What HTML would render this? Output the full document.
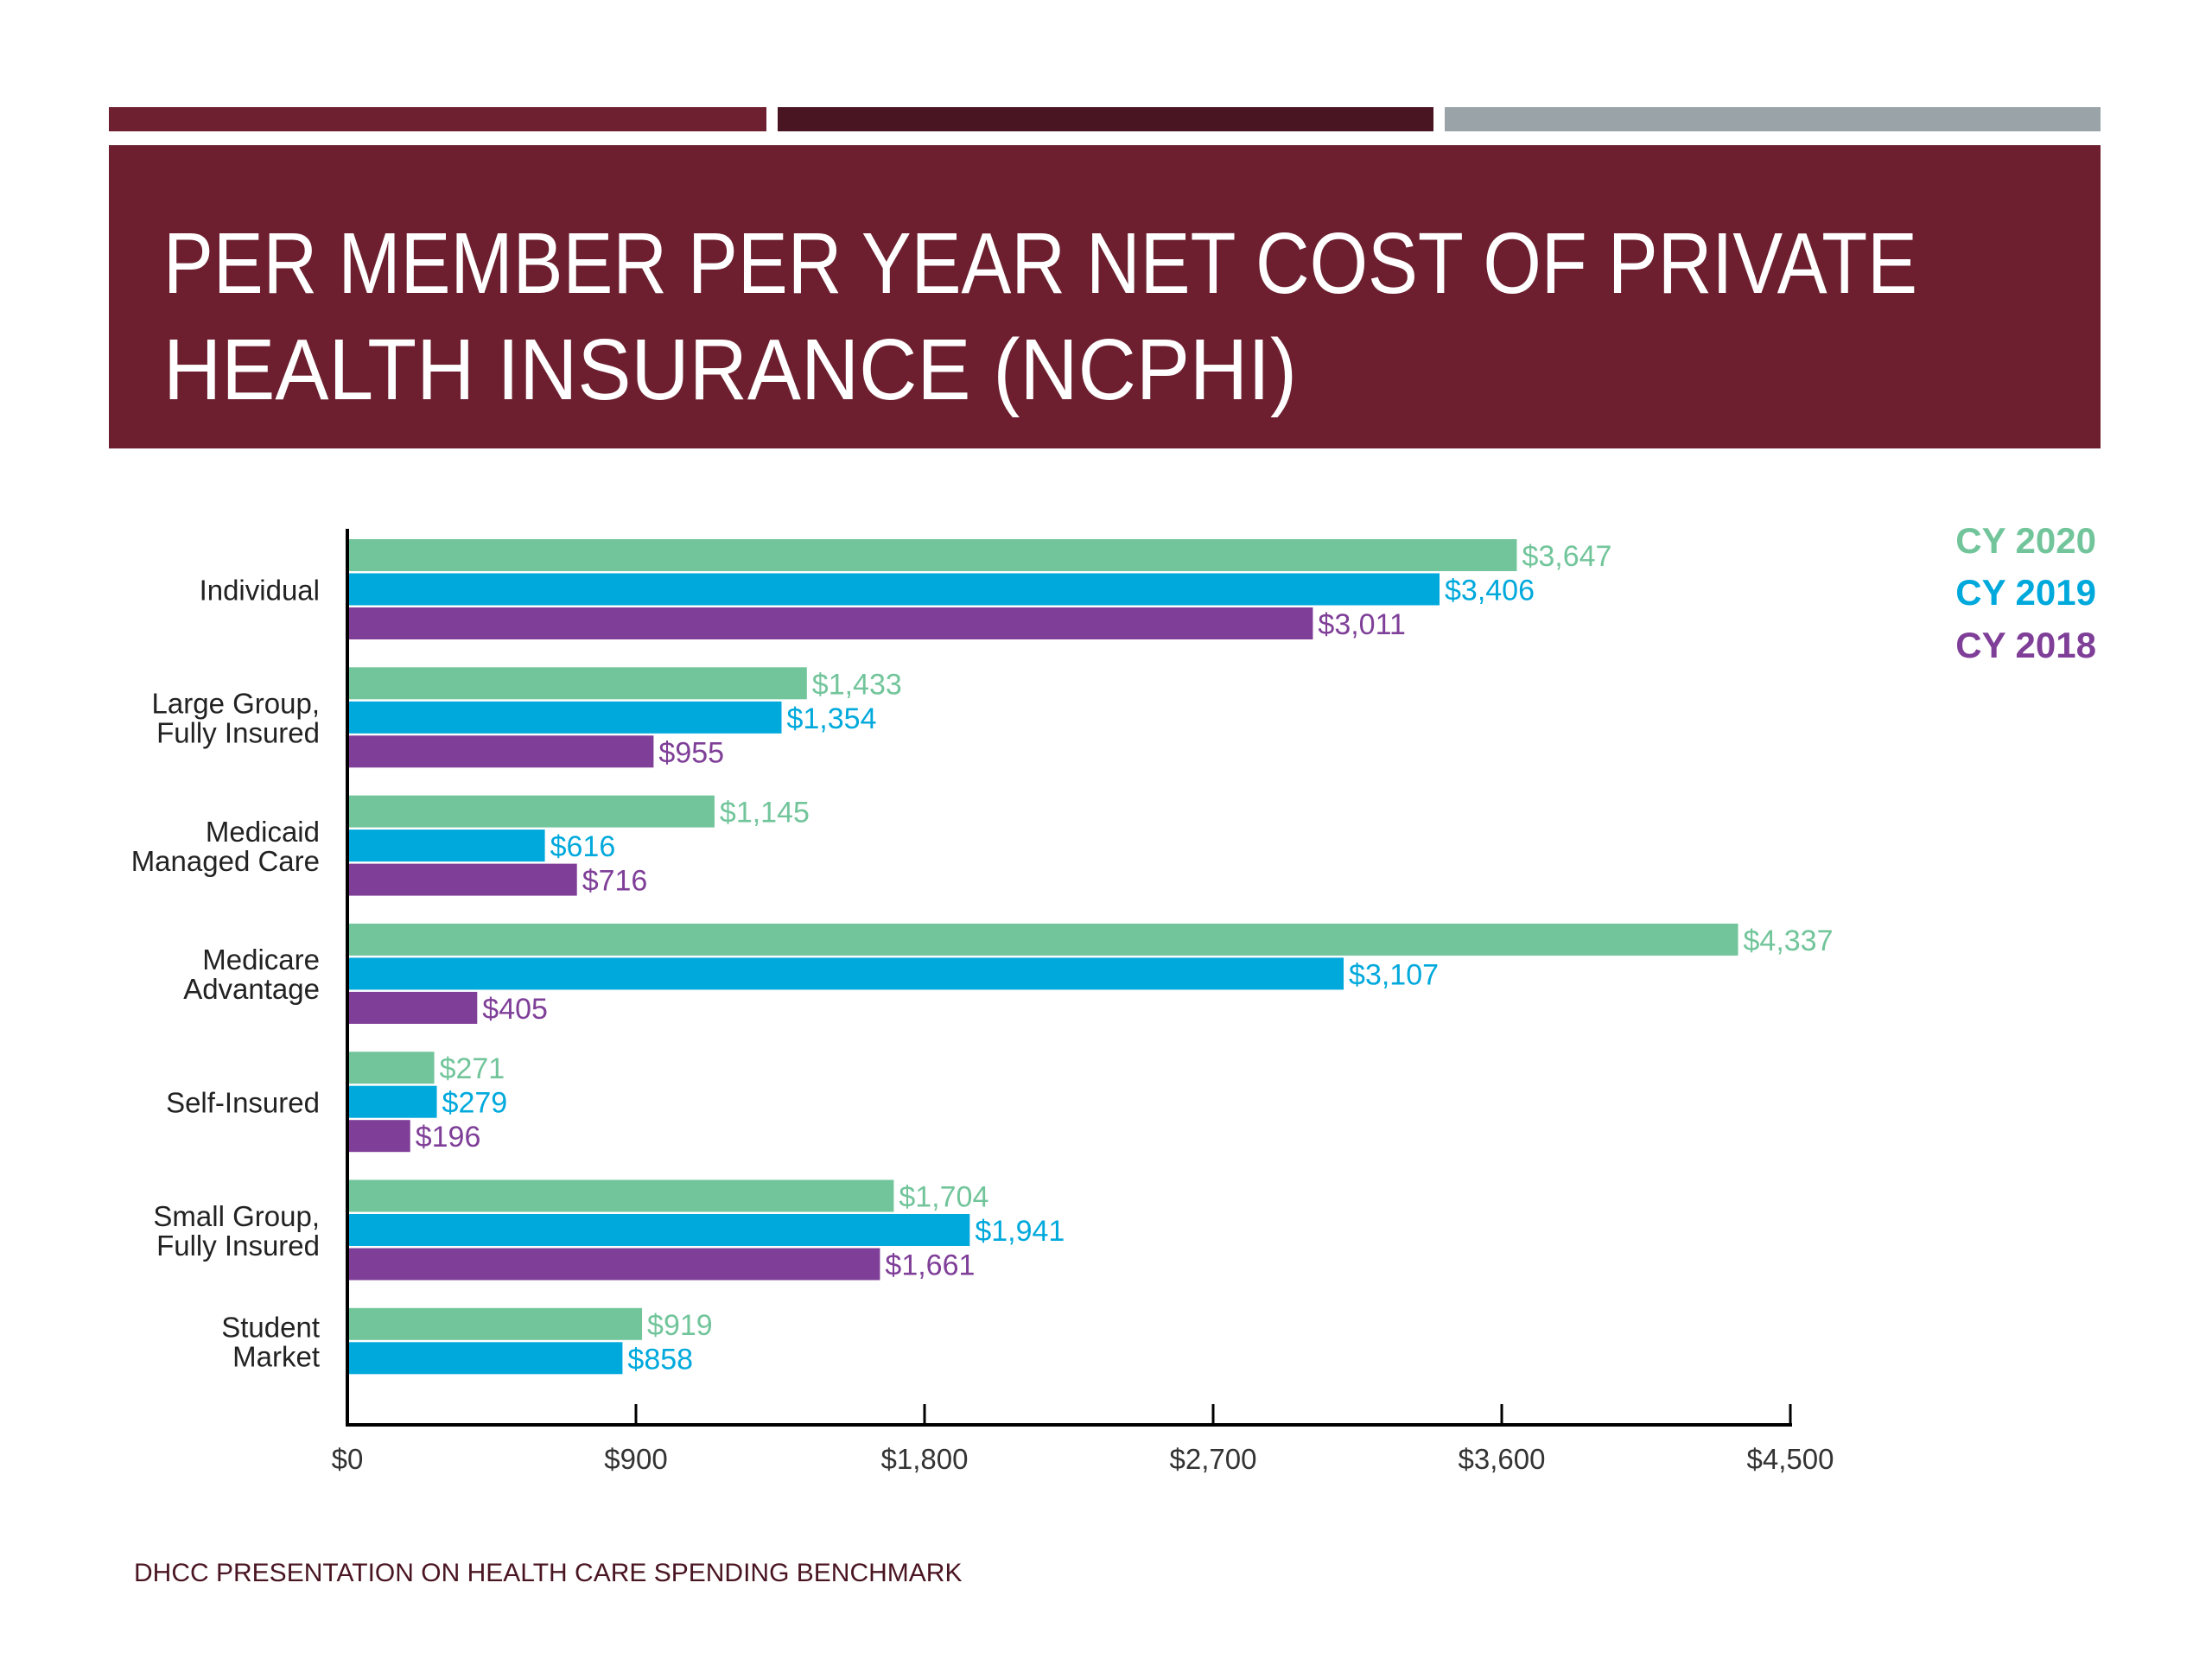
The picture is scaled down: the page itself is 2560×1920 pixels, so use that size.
<!DOCTYPE html>
<html><head><meta charset="utf-8">
<style>
html,body{margin:0;padding:0;background:#fff;}
svg{display:block;font-family:"Liberation Sans",sans-serif;}
</style></head>
<body>
<svg id="chart" width="2560" height="1920" viewBox="0 0 2560 1920" xmlns="http://www.w3.org/2000/svg">
  <rect x="126" y="124" width="761" height="28" fill="#6e1f30"/>
  <rect x="900" y="124" width="759" height="28" fill="#4a1522"/>
  <rect x="1672" y="124" width="759" height="28" fill="#9aa3a8"/>
  <rect x="126" y="168" width="2305" height="351" fill="#6d1f2f"/>
  <text x="189" y="339" font-size="100" fill="#fff" textLength="2030" lengthAdjust="spacingAndGlyphs">PER MEMBER PER YEAR NET COST OF PRIVATE</text>
  <text x="189" y="462" font-size="100" fill="#fff" textLength="1312" lengthAdjust="spacingAndGlyphs">HEALTH INSURANCE (NCPHI)</text>
  <g id="plot"></g>
  <g font-weight="bold" font-size="42" text-anchor="end">
    <text x="2426" y="640" fill="#72c59b">CY 2020</text>
    <text x="2426" y="700" fill="#00a9dc">CY 2019</text>
    <text x="2426" y="761" fill="#7f3f98">CY 2018</text>
  </g>
  <text x="155" y="1830" font-size="30" fill="#4a1522">DHCC PRESENTATION ON HEALTH CARE SPENDING BENCHMARK</text>
</svg>
<script>
const categories = [["Individual"],["Large Group,","Fully Insured"],["Medicaid","Managed Care"],["Medicare","Advantage"],["Self-Insured"],["Small Group,","Fully Insured"],["Student","Market"]];
const seriesNames = ["CY 2020","CY 2019","CY 2018"];
const cy2020 = [3647,1433,1145,4337,271,1704,919];
const cy2019 = [3406,1354,616,3107,279,1941,858];
const cy2018 = [3011,955,716,405,196,1661,null];
const ticks = [0,900,1800,2700,3600,4500];
const tickLabels = ["$0","$900","$1,800","$2,700","$3,600","$4,500"];

const colors = ["#72c59b","#00a9dc","#7f3f98"];
const NS = "http://www.w3.org/2000/svg";
const g = document.getElementById("plot");
const X0 = 402, X1 = 2072, AXY = 1649, TOP0 = 624, PITCH = 148.3, BH = 37, STRIDE = 39.5;
const xs = v => X0 + (v - ticks[0]) / (ticks[ticks.length-1] - ticks[0]) * (X1 - X0);
function mk(tag, attrs){ const e = document.createElementNS(NS, tag); for (const k in attrs) e.setAttribute(k, attrs[k]); g.appendChild(e); return e; }
const fmt = v => "$" + v.toLocaleString("en-US");
const series = [cy2020, cy2019, cy2018];

categories.forEach((cat, i) => {
  const gt = TOP0 + i * PITCH;
  series.forEach((s, j) => {
    const v = s[i];
    if (v == null) return;
    const y = gt + j * STRIDE;
    const r = mk("rect", {x: X0, y: y, width: xs(v) - X0, height: BH, fill: colors[j]});
    
    
    const t = mk("text", {x: xs(v) + 6, y: y + BH - 6, "font-size": 34, fill: colors[j]});
    t.textContent = fmt(v);
    
    
  });
  const nBars = series.filter(s => s[i] != null).length;
  const mid = gt + (nBars * STRIDE - 2) / 2;
  cat.forEach((ln, k) => {
    const t = mk("text", {x: 370, y: mid + 12 + (k - (cat.length - 1) / 2) * 34, "font-size": 33, fill: "#222", "text-anchor": "end"});
    t.textContent = ln;
    
    
  });
});

const ax = mk("line", {x1: X0, y1: 612, x2: X0, y2: AXY + 2, stroke: "#000", "stroke-width": 4});


const bx = mk("line", {x1: X0 - 2, y1: AXY, x2: X1 + 2, y2: AXY, stroke: "#000", "stroke-width": 4});


ticks.forEach((tv, i) => {
  const x = xs(tv);
  const tl = mk("line", {x1: x, y1: AXY - 24, x2: x, y2: AXY, stroke: "#000", "stroke-width": 3});
  
  
  const t = mk("text", {x: x, y: 1700, "font-size": 33, fill: "#333", "text-anchor": "middle"});
  t.textContent = tickLabels[i];
  
  
});
</script>
</body></html>
